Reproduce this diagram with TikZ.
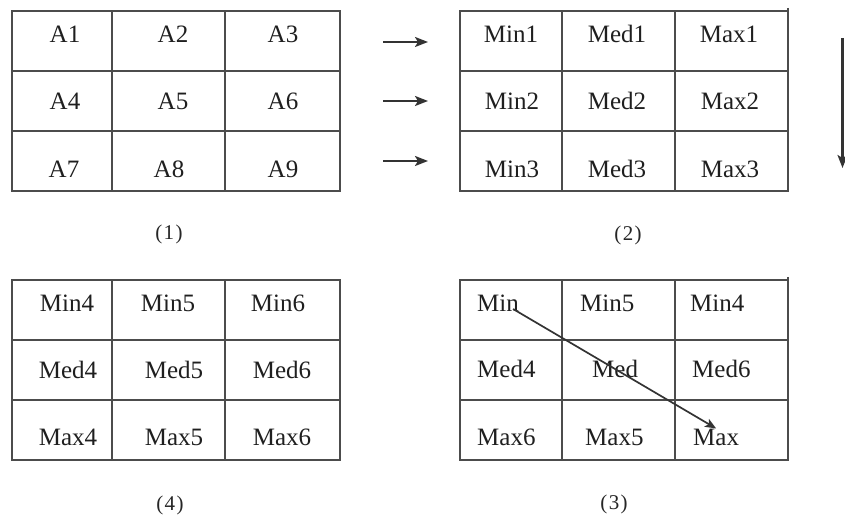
\documentclass[tikz,border=0pt]{standalone}
\usepackage{fontspec}
\setmainfont{Liberation Serif}
\usetikzlibrary{arrows.meta,calc}
\begin{document}
\begin{tikzpicture}[x=1pt,y=-1pt,
  gridline/.style={line width=2.2pt, draw=black!70},
  cell/.style={anchor=base, inner sep=0pt, text=black!88, font=\fontsize{25}{30}\selectfont},
  lcell/.style={cell, anchor=base west},
  caption/.style={anchor=base, inner sep=0pt, text=black!85, font=\fontsize{21}{25}\selectfont},
  flow/.style={line width=2.2pt, draw=black!80, -{Stealth[length=13pt,width=10pt,inset=3pt]}},
  thinflow/.style={line width=1.7pt, draw=black!80, -{Stealth[length=11pt,width=9pt,inset=2.5pt]}},
]
\useasboundingbox (0,0) rectangle (845,518);

% ---- table (1): the input window A1..A9
\draw[gridline] (12,11) rectangle (340,191);
\draw[gridline] (112,11) -- (112,191) (225,11) -- (225,191)
                (12,71) -- (340,71) (12,131) -- (340,131);
\node[cell] (a1) at (65,43)  {A1};
\node[cell] (a2) at (173,43) {A2};
\node[cell] (a3) at (283,43) {A3};
\node[cell] (a4) at (65,110)  {A4};
\node[cell] (a5) at (173,110) {A5};
\node[cell] (a6) at (283,110) {A6};
\node[cell] (a7) at (64,178)  {A7};
\node[cell] (a8) at (169,178) {A8};
\node[cell] (a9) at (283,178) {A9};
\node[caption] (c1) at (169,240) {(\kern1.5pt1\kern1.5pt)};

% ---- row-wise sorting arrows
\coordinate (r1s) at (383,42);  \coordinate (r1e) at (428,42);
\coordinate (r2s) at (383,101); \coordinate (r2e) at (428,101);
\coordinate (r3s) at (383,161); \coordinate (r3e) at (428,161);
\draw[flow] (r1s) -- (r1e);
\draw[flow] (r2s) -- (r2e);
\draw[flow] (r3s) -- (r3e);

% ---- table (2): sorted rows
\draw[gridline] (460,11) rectangle (788,191);
\draw[gridline] (788,8) -- (788,11);
\draw[gridline] (562,11) -- (562,191) (675,11) -- (675,191)
                (460,71) -- (788,71) (460,131) -- (788,131);
\node[cell] (b1) at (511,43)  {Min1};
\node[cell] (b2) at (617,43)  {Med1};
\node[cell] (b3) at (729,43)  {Max1};
\node[cell] (b4) at (512,110) {Min2};
\node[cell] (b5) at (617,110) {Med2};
\node[cell] (b6) at (730,110) {Max2};
\node[cell] (b7) at (512,178) {Min3};
\node[cell] (b8) at (617,178) {Med3};
\node[cell] (b9) at (730,178) {Max3};
\node[caption] (c2) at (628,241) {(\kern1.5pt2\kern1.5pt)};

% ---- column-wise sorting arrow
\coordinate (ds) at (842.5,38);
\coordinate (de) at (842.5,168);
\draw[flow] (ds) -- (de);

% ---- table (4): sorted columns
\draw[gridline] (12,280) rectangle (340,460);
\draw[gridline] (112,280) -- (112,460) (225,280) -- (225,460)
                (12,340) -- (340,340) (12,400) -- (340,400);
\node[cell] (d1) at (67,312)  {Min4};
\node[cell] (d2) at (168,312) {Min5};
\node[cell] (d3) at (278,312) {Min6};
\node[cell] (d4) at (68,378)  {Med4};
\node[cell] (d5) at (174,378) {Med5};
\node[cell] (d6) at (282,378) {Med6};
\node[cell] (d7) at (68,445)  {Max4};
\node[cell] (d8) at (174,445) {Max5};
\node[cell] (d9) at (282,445) {Max6};
\node[caption] (c4) at (170,510) {(\kern1.5pt4\kern1.5pt)};

% ---- table (3): the diagonal gives the median
\draw[gridline] (460,280) rectangle (788,460);
\draw[gridline] (788,277) -- (788,280);
\draw[gridline] (562,280) -- (562,460) (675,280) -- (675,460)
                (460,340) -- (788,340) (460,400) -- (788,400);
\node[lcell] (mn) at (477,312) {Min};
\node[lcell] (e2) at (580,312) {Min5};
\node[lcell] (e3) at (690,312) {Min4};
\node[lcell] (e4) at (477,377) {Med4};
\node[lcell] (md) at (592,377) {Med};
\node[lcell] (e6) at (692,377) {Med6};
\node[lcell] (e7) at (477,445) {Max6};
\node[lcell] (e8) at (585,445) {Max5};
\node[lcell] (mx) at (693,445) {Max};
\node[caption] (c3) at (614,509) {(\kern1.5pt3\kern1.5pt)};

\draw[thinflow] ($(mn.base east)+(-6,-3)$) -- (mx.north);
\end{tikzpicture}
\end{document}
